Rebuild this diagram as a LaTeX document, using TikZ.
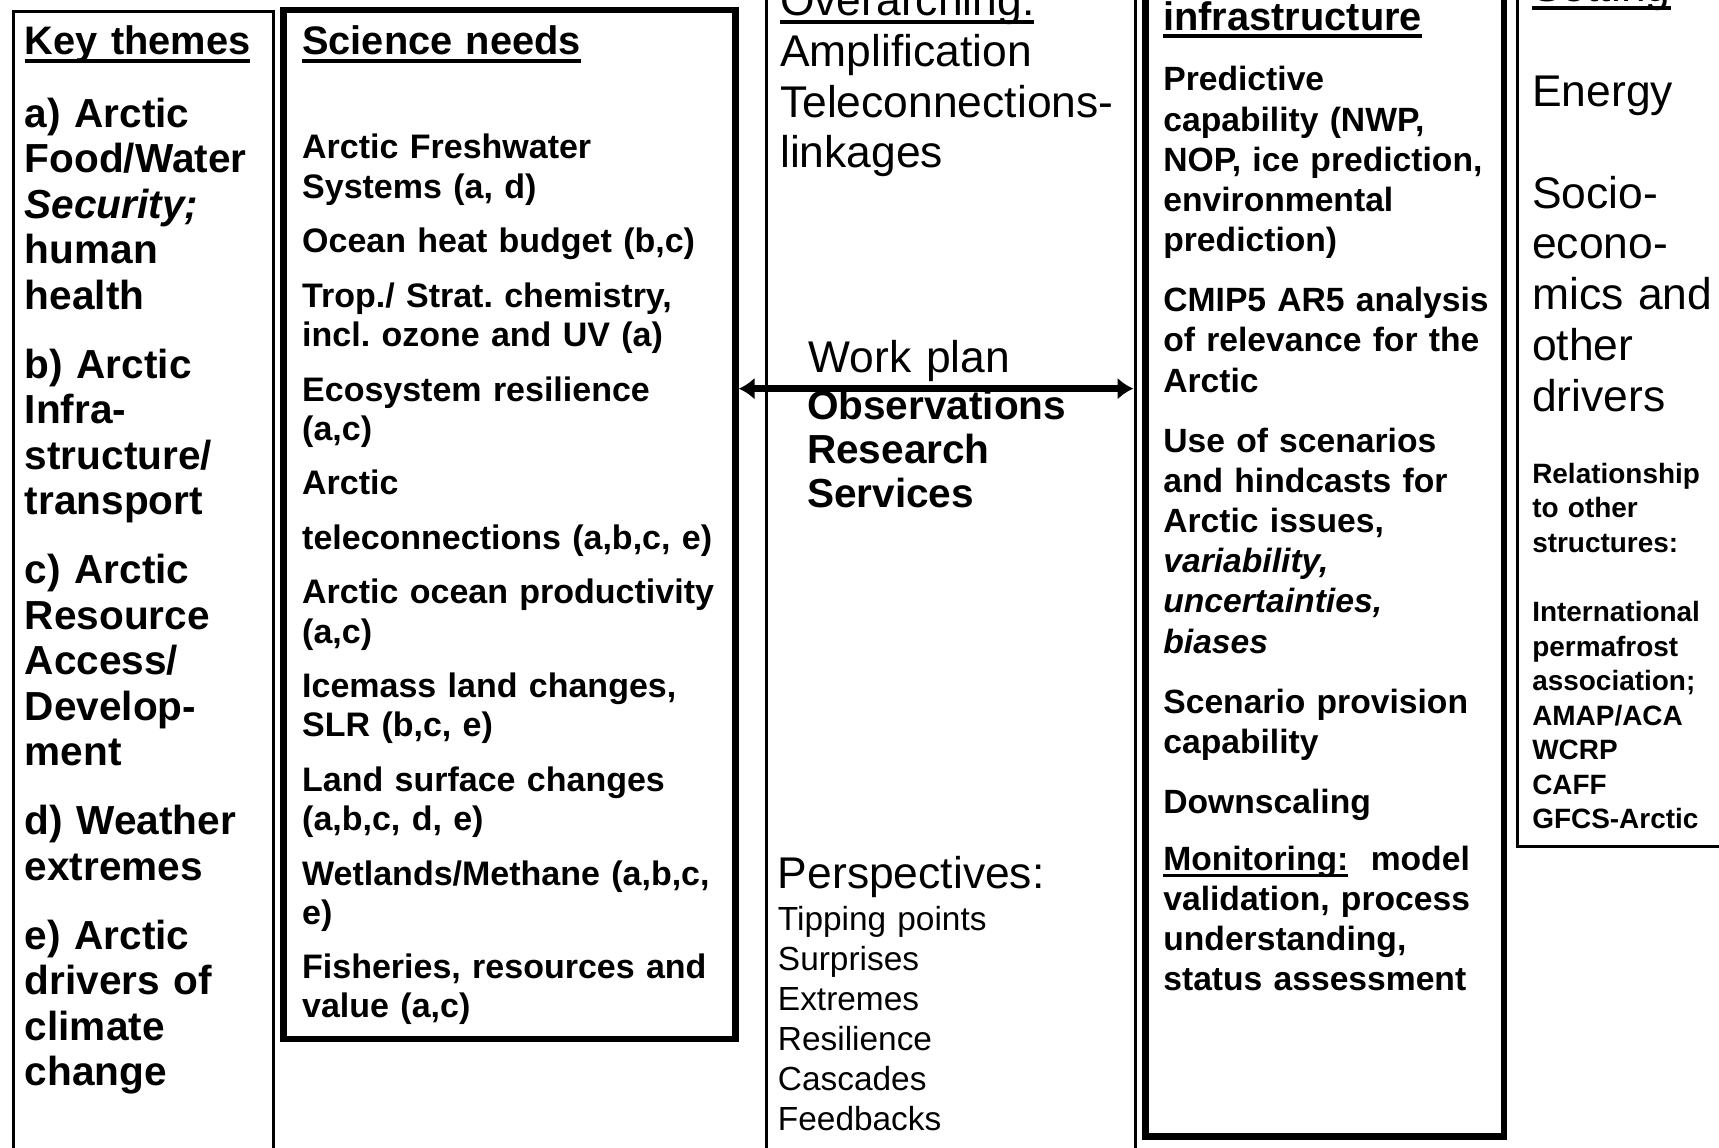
\documentclass[tikz,border=0pt]{standalone}
\usepackage{fontspec}
\setmainfont{Liberation Sans}
\usetikzlibrary{arrows.meta,fit}
\frenchspacing

% heading text with a heavy rule just under the baseline
\newcommand\headul[1]{\setbox0=\hbox{#1}\leavevmode\rlap{\rule[-0.2em]{\wd0}{0.1em}}\box0\relax}

\tikzset{
  col frame/.style={draw=black, line width=0.8pt, inner sep=0pt},
  col heavy/.style={draw=black, line width=1.8pt, inner sep=0pt},
  col text/.style={anchor=base west, inner sep=0pt, align=left, text width=60mm},
  head font/.style={font=\fontsize{11.32pt}{12.94pt}\selectfont\bfseries},
  theme font/.style={font=\fontsize{11.54pt}{12.94pt}\selectfont\bfseries},
  need font/.style={font=\fontsize{9.67pt}{11.13pt}\selectfont\bfseries},
  big font/.style={font=\fontsize{12.63pt}{14.47pt}\selectfont},
  plan font/.style={font=\fontsize{11.54pt}{12.47pt}\selectfont\bfseries},
  persp font/.style={font=\fontsize{9.5pt}{11.38pt}\selectfont},
  infra font/.style={font=\fontsize{9.57pt}{11.44pt}\selectfont\bfseries},
  link font/.style={font=\fontsize{7.95pt}{9.82pt}\selectfont\bfseries},
  plan arrow/.style={{Latex[length=4.5pt,width=6.3pt]}-{Latex[length=4.5pt,width=6.3pt]},
    line width=1.9pt, shorten >=2.6pt}
}

\begin{document}
\begin{tikzpicture}[x=0.1096mm, y=-0.1096mm]
  \fill[white] (0,0) rectangle (1568,1047);
  \useasboundingbox (0,0) rectangle (1568,1047);

  % column frames, most of them run past the page edge
  \node[col frame, fit={(12,10.5) (249.5,1090)}] (themes) {};
  \node[col heavy, fit={(258.5,9) (671,948)}] (science) {};
  \node[col frame, fit={(699,-40) (1036,1090)}] (arch) {};
  \node[col heavy, fit={(1045,-40) (1372,1036.5)}] (infra) {};
  \node[col frame, fit={(1384,-40) (1620,772)}] (setting) {};

  % work plan link between science needs and infrastructure
  \coordinate (plan row) at (0,354.5);
  \draw[plan arrow] (science.east |- plan row) -- (infra.west |- plan row);

  % key themes
  \node[col text, head font] (themes head) at (22,50) {\headul{Key themes}};
  \node[col text, theme font] (themes list) at (22,116) {a) Arctic\\Food/Water\\\textit{Security;}\\human\\health\\[6.7pt]
    b) Arctic\\Infra-\\structure/\\transport\\[6.7pt]
    c) Arctic\\Resource\\Access/\\Develop-\\ment\\[6.7pt]
    d) Weather\\extremes\\[6.7pt]
    e) Arctic\\drivers of\\climate\\change};

  % science needs
  \node[col text, head font] (needs head) at (275,50) {\headul{Science needs}};
  \node[col text, need font] (needs list) at (275,145) {Arctic Freshwater\\Systems (a, d)\\[4.4pt]
    Ocean heat budget (b,c)\\[4.4pt]
    Trop./ Strat. chemistry,\\incl. ozone and UV (a)\\[4.4pt]
    Ecosystem resilience\\(a,c)\\[4.4pt]
    Arctic\\[4.4pt]
    teleconnections (a,b,c, e)\\[4.4pt]
    Arctic ocean productivity\\(a,c)\\[4.4pt]
    Icemass land changes,\\SLR (b,c, e)\\[4.4pt]
    Land surface changes\\(a,b,c, d, e)\\[4.4pt]
    Wetlands/Methane (a,b,c,\\e)\\[4.4pt]
    Fisheries, resources and\\value (a,c)};

  % overarching column
  \node[col text, big font] (arch head) at (711,14) {\headul{Overarching:}\\Amplification\\Teleconnections-\\linkages};
  \node[col text, big font] (plan head) at (737,340) {Work plan};
  \node[col text, plan font] (plan list) at (735.5,382.5) {Observations\\Research\\Services};
  \node[col text, big font] (persp head) at (709,810) {Perspectives:};
  \node[col text, persp font] (persp list) at (709,849) {Tipping points\\Surprises\\Extremes\\Resilience\\Cascades\\Feedbacks};

  % infrastructure
  \node[col text, head font] (infra head) at (1060.5,27.5) {\headul{infrastructure}};
  \node[col text, infra font] (infra list) at (1060.5,83) {Predictive\\capability (NWP,\\NOP, ice prediction,\\environmental\\prediction)\\[5.6pt]
    CMIP5 AR5 analysis\\of relevance for the\\Arctic\\[5.6pt]
    Use of scenarios\\and hindcasts for\\Arctic issues,\\\textit{variability,}\\\textit{uncertainties,}\\\textit{biases}\\[5.6pt]
    Scenario provision\\capability\\[5.6pt]
    Downscaling\\[4.8pt]
    \headul{Monitoring:}\ \ model\\validation, process\\understanding,\\status assessment};

  % setting
  \node[col text, big font] (setting head) at (1397,1.3) {\headul{Setting}};
  \node[col text, big font] (setting list) at (1397,97) {Energy\\[14.47pt]Socio-\\econo-\\mics and\\other\\drivers};
  \node[col text, link font] (link list) at (1397,441) {Relationship\\to other\\structures:\\[9.82pt]
    International\\permafrost\\association;\\AMAP/ACA\\WCRP\\CAFF\\GFCS-Arctic};
\end{tikzpicture}
\end{document}
